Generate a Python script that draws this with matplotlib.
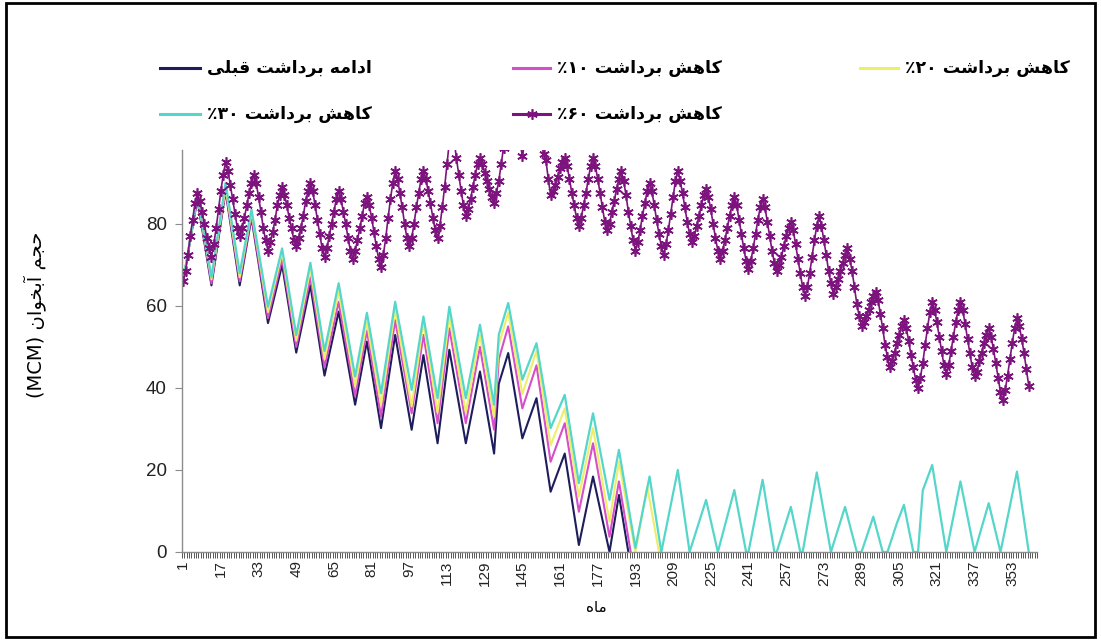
import numpy as np
import matplotlib
matplotlib.use("Agg")
import matplotlib.pyplot as plt
from matplotlib.lines import Line2D
from matplotlib.patches import Rectangle

# ---- data (MCM) ----
# 60% withdrawal cut: one value per month, one row per year
vol_60 = [
    66, 68.5, 72.5, 77, 81, 85, 87.5, 85.5, 83, 80, 76.5, 74,
    72, 75, 79, 83.5, 88, 92, 95, 93, 89.5, 86, 82.5, 79,
    77, 79, 81.5, 84.5, 87.5, 90, 92, 90, 86.5, 83, 79, 76,
    73.5, 75.5, 78, 81, 84.5, 87, 89, 87, 84.5, 81.5, 79, 76,
    74.5, 76.5, 79, 82, 85.5, 88, 90, 88, 84.5, 81, 77.5, 74,
    72, 74, 77, 80, 83, 86, 88, 86, 83, 80, 76.5, 73.5,
    71.5, 73.5, 76, 79, 82, 85, 86.5, 84.5, 81.5, 78, 74.5, 71.5,
    69.5, 72.5, 76.5, 81.5, 86, 90, 93, 91, 87.5, 84, 80, 76.5,
    74.5, 76.5, 80, 84, 87.5, 91, 93, 91, 88, 85, 81.5, 78.5,
    76.5, 79.5, 84, 89, 94.5, 100, 102, 100.5, 96, 92, 88, 84.5,
    82, 83.5, 86, 89, 92, 94.5, 96, 94.5, 92.5, 90.5, 88.5, 86.5,
    85, 87.5, 90.5, 94.5, 98.5, 102, 104, 103, 102, 101, 100.5, 100,
    96.5, 100, 101, 102.5, 103, 103, 102, 100.5, 100, 97, 95.5, 91,
    87, 88, 89.5, 91.5, 93.5, 95, 96, 94, 91, 87.5, 84.5, 81.5,
    79.5, 81.5, 84.5, 87.5, 91, 94, 96, 94, 91, 87.5, 84, 80.5,
    78.5, 80, 83, 85.5, 88.5, 91, 93, 90.5, 87, 83, 79.5, 76,
    73.5, 75.5, 78.5, 82, 85, 88, 90, 88, 84.5, 81, 77.5, 74.5,
    72.5, 75, 78.5, 82.5, 86.5, 90.5, 93, 90.5, 87.5, 84, 80.5, 77.5,
    75.5, 77, 79.5, 82, 84.5, 87, 88.5, 86.5, 83.5, 80, 76.5, 73.5,
    71.5, 73.5, 76, 79, 82, 84.5, 86.5, 84.5, 81, 77.5, 74, 71,
    69, 71, 74, 77.5, 81, 84, 86, 84, 80.5, 77, 73.5, 70.5,
    68.5, 70, 72, 74.5, 77, 79, 80.5, 78.5, 75, 71.5, 68, 64.5,
    62.5, 64.5, 68, 72, 76, 79.5, 82, 79.5, 76, 72.5, 68.5, 65.5,
    63, 64.5, 66.5, 68.5, 70.5, 72.5, 74, 71.5, 68.5, 64.5, 60.5, 57.5,
    55, 56, 57.5, 59, 61, 62.5, 63.5, 61.5, 58, 54.5, 50.5, 47.5,
    45, 46.5, 48.5, 51, 53, 55, 56.5, 54.5, 51.5, 48, 45, 42,
    40, 42.5, 46, 50.5, 54.5, 58.5, 61, 59, 56, 52.5, 49, 45.5,
    43.5, 45.5, 49, 52.5, 56, 59, 61, 59, 55.5, 52, 48.5, 45,
    43, 44, 46.5, 48.5, 51, 53, 54.5, 52.5, 49.5, 46, 42.5, 39,
    37, 39.5, 43, 47, 51, 54.5, 57, 55, 52, 48.5, 44.5, 40.5,
]
months_60 = list(range(1, len(vol_60) + 1))

# other scenarios: turning points (troughs / peaks) only
m_turn = [1, 7, 13, 19, 25, 30, 37, 43, 49, 55, 61, 67, 74, 79, 85, 91, 98,
          103, 109, 114, 121, 127, 133, 135, 139, 145, 151, 157, 163, 169,
          175, 182, 186]

vol_base = [66, 86, 65, 88, 65, 81.5, 55.8, 70, 48.6, 65, 43, 58.6, 35.9, 51.3,
            30.2, 52.9, 29.8, 48, 26.5, 49.3, 26.5, 44, 24, 41, 48.5, 27.7,
            37.5, 14.7, 24, 1.7, 18.4, 0, 13.9, 0]
months_base = m_turn + [190]

vol_10 = [66, 86.5, 65.5, 88.5, 66, 82, 57, 71.5, 50, 67, 45, 61, 38, 54, 33,
          56.5, 33.8, 52.9, 31.4, 54.5, 31.4, 50, 29.8, 47, 55, 35, 45.5, 22,
          31.4, 9.8, 26.5, 3.7, 17.2, 0]
months_10 = m_turn + [191]

vol_20 = [66, 87, 66.5, 89, 67, 83, 58.5, 73, 51.5, 69, 47, 63.5, 40.5, 56, 36,
          59, 35.5, 56, 34, 57.4, 34, 52.9, 33, 50.5, 58.3, 38.5, 49, 26, 35,
          13.5, 30.2, 7.4, 22, 0, 16, 0]
months_20 = m_turn + [193, 198, 203]

vol_30 = [66, 87, 67, 90, 68, 83.5, 59.8, 74, 52.9, 70.5, 49, 65.5, 42.8, 58.3,
          38.7, 61, 39.5, 57.4, 37.5, 59.8, 37.5, 55.4, 35.9, 53, 60.7, 42,
          50.9, 30.2, 38.3, 16.8, 33.8, 12.7, 24.9,
          1, 18.4, 0, 20, 0, 12.7, 0, 15.1, 0, 0, 17.6, 0, 0, 11, 0, 0, 19.4,
          0, 11, 0, 0, 8.6, 0, 0, 7, 11.5, 0, 0, 15, 21.2, 0, 17.2, 0, 11.9,
          0, 19.6, 0]
months_30 = m_turn + [193, 199, 204, 211, 216, 223, 228, 235, 240, 241, 247,
                      252, 253, 259, 263, 264, 270, 276, 282, 287, 289, 294,
                      298, 300, 304, 307, 311, 313, 315, 319, 325, 331, 337,
                      343, 348, 355, 360]

tick_months = list(range(1, 354, 16))

# ---- persian text (visual order, presentation forms) ----
w_bardasht = "\ufe96\ufeb7\ufe8d\ufea9\ufeae\ufe91"   # برداشت
w_kahesh = "\ufeb6\ufeeb\ufe8e\ufedb"                 # کاهش
lab_base = "\ufef0\ufee0\ufe92\ufed7 " + w_bardasht + " \ufeea\ufee3\ufe8d\ufea9\ufe8d"
def lab_cut(d):
    return "\u066a" + d + " " + w_bardasht + " " + w_kahesh
lab_10 = lab_cut("\u06f1\u06f0")
lab_20 = lab_cut("\u06f2\u06f0")
lab_30 = lab_cut("\u06f3\u06f0")
lab_60 = lab_cut("\u06f6\u06f0")
ylab = "(MCM) \ufee5\ufe8d\ufeee\ufea8\ufe91\ufe81 \ufee2\ufea0\ufea3"
xlab = "\ufee9\ufe8e\ufee3"

c_base = "#1e1d5c"
c_10 = "#d64fc8"
c_20 = "#eeee6a"
c_30 = "#55d6ca"
c_60 = "#7d137d"

W, H = 1101, 640
fig = plt.figure(figsize=(W / 100, H / 100), dpi=100)
ax = fig.add_axes([182 / W, 1 - 552 / H, (1037 - 182) / W, (552 - 150) / H])

ax.plot(months_base, vol_base, color=c_base, lw=1.5)
ax.plot(months_10, vol_10, color=c_10, lw=1.5)
ax.plot(months_20, vol_20, color=c_20, lw=1.5)
ax.plot(months_30, vol_30, color=c_30, lw=1.6)
ax.plot(months_60, vol_60, color=c_60, lw=1.2, marker=(6, 2, 0),
        markersize=7.5, markeredgewidth=1.2, markeredgecolor=c_60)

ax.set_xlim(0.5, 363.5)
ax.set_ylim(0, 98)
ax.set_yticks([0, 20, 40, 60, 80])
ax.set_xticks(tick_months)
ax.set_xticklabels([str(m) for m in tick_months], rotation=90,
                   fontsize=11, family="Liberation Sans", color="#222222")
ax.set_xticks(np.arange(0.5, 364, 1), minor=True)
for lab in ax.get_yticklabels():
    lab.set_family("Liberation Sans")
    lab.set_fontsize(13.5)
    lab.set_color("#222222")
ax.tick_params(axis="y", length=5, width=0.8, color="#8c8c8c", pad=6)
ax.tick_params(axis="x", which="major", length=0, pad=6)
ax.tick_params(axis="x", which="minor", length=4, width=0.7, color="#555555")
for s in ["top", "right"]:
    ax.spines[s].set_visible(False)
for s in ["left", "bottom"]:
    ax.spines[s].set_color("#8c8c8c")
    ax.spines[s].set_linewidth(1.0)

# axis titles
fig.text(35 / W, 1 - 315 / H, ylab, rotation=90, ha="center", va="center",
         fontsize=14, family="DejaVu Sans")
fig.text(596 / W, 1 - 608 / H, xlab, ha="center", va="center",
         fontsize=11, family="DejaVu Sans")

# legend, laid out by hand like the original
entries = [
    (160, 200, 68, lab_base, c_base, None),
    (513, 550, 68, lab_10, c_10, None),
    (860, 898, 68, lab_20, c_20, None),
    (160, 200, 114, lab_30, c_30, None),
    (513, 550, 114, lab_60, c_60, (6, 2, 0)),
]
for x0, x1, yy, txt, col, mk in entries:
    fy = 1 - yy / H
    fig.add_artist(Line2D([x0 / W, x1 / W], [fy, fy], color=col, lw=2.2,
                          transform=fig.transFigure))
    if mk is not None:
        fig.add_artist(Line2D([(x0 + x1) / 2 / W], [fy], color=col, marker=mk,
                              markersize=7.5, markeredgewidth=1.2,
                              transform=fig.transFigure))
    fig.text((x1 + 7) / W, fy, txt, ha="left", va="center", fontsize=12.5,
             fontweight="bold", family="DejaVu Sans")

# outer frame
fig.add_artist(Rectangle((6 / W, 3 / H), (1095 - 6) / W, (637 - 3) / H,
                         fill=False, edgecolor="black", lw=2,
                         transform=fig.transFigure))

fig.savefig("out.png", dpi=100, facecolor="white")
